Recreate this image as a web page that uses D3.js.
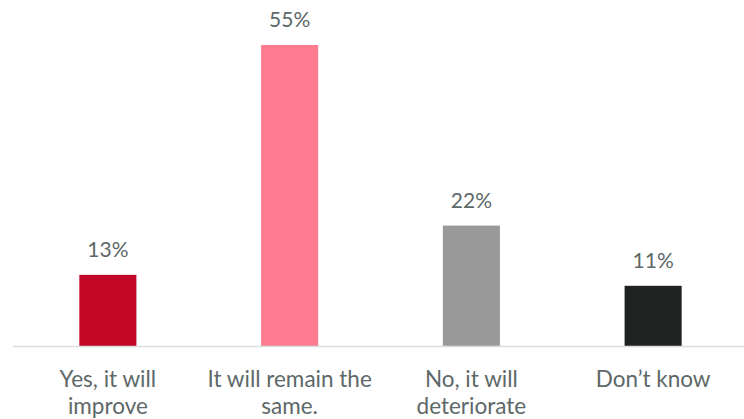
<!DOCTYPE html>
<html>
<head>
<meta charset="utf-8">
<script src="https://cdn.jsdelivr.net/npm/d3@7"></script>
<style>
  html, body { margin: 0; padding: 0; background: #fff; }
  svg { display: block; }
</style>
</head>
<body>
<svg id="chart" width="744" height="419"></svg>
<script>
// Survey answers and their shares (%)
const categories = [["Yes, it will", "improve"], ["It will remain the", "same."], ["No, it will", "deteriorate"], ["Don\u2019t know"]];
const values = [13, 55, 22, 11];
const barColors = ["#c10626", "#fd7b8f", "#999999", "#1f2423"];

const W = 744, H = 419;
const svg = d3.select("#chart");
const font = "Lato, 'Open Sans', sans-serif";
const textColor = "#5d6868";

const x = d3.scaleBand()
  .domain(d3.range(values.length))
  .range([17, 744])
  .paddingInner(0.686)
  .paddingOuter(0.343);

const y = d3.scaleLinear()
  .domain([0, 55])
  .range([346, 45]);

// Bars
svg.append("g").selectAll("rect")
  .data(values)
  .join("rect")
  .attr("x", (d, i) => x(i))
  .attr("y", d => y(d))
  .attr("width", x.bandwidth())
  .attr("height", d => y(0) - y(d))
  .attr("fill", (d, i) => barColors[i]);

// Baseline
svg.append("line")
  .attr("x1", 13).attr("x2", W)
  .attr("y1", y(0) + 0.5).attr("y2", y(0) + 0.5)
  .attr("stroke", "#d9dddd")
  .attr("stroke-width", 1.5);

// Value labels
svg.append("g").selectAll("text")
  .data(values)
  .join("text")
  .attr("x", (d, i) => x(i) + x.bandwidth() / 2)
  .attr("y", d => y(d) - 18)
  .attr("text-anchor", "middle")
  .attr("font-family", font)
  .attr("font-size", 21)
  .attr("fill", textColor)
  .text(d => d + "%");

// Category labels
const cat = svg.append("g").selectAll("text")
  .data(categories)
  .join("text")
  .attr("x", (d, i) => x(i) + x.bandwidth() / 2)
  .attr("y", 387)
  .attr("text-anchor", "middle")
  .attr("font-family", font)
  .attr("font-size", 22.5)
  .attr("fill", textColor);

cat.selectAll("tspan")
  .data(d => d)
  .join("tspan")
  .attr("x", function () { return d3.select(this.parentNode).attr("x"); })
  .attr("dy", (d, j) => j === 0 ? 0 : 27)
  .text(d => d);
</script>
</body>
</html>
